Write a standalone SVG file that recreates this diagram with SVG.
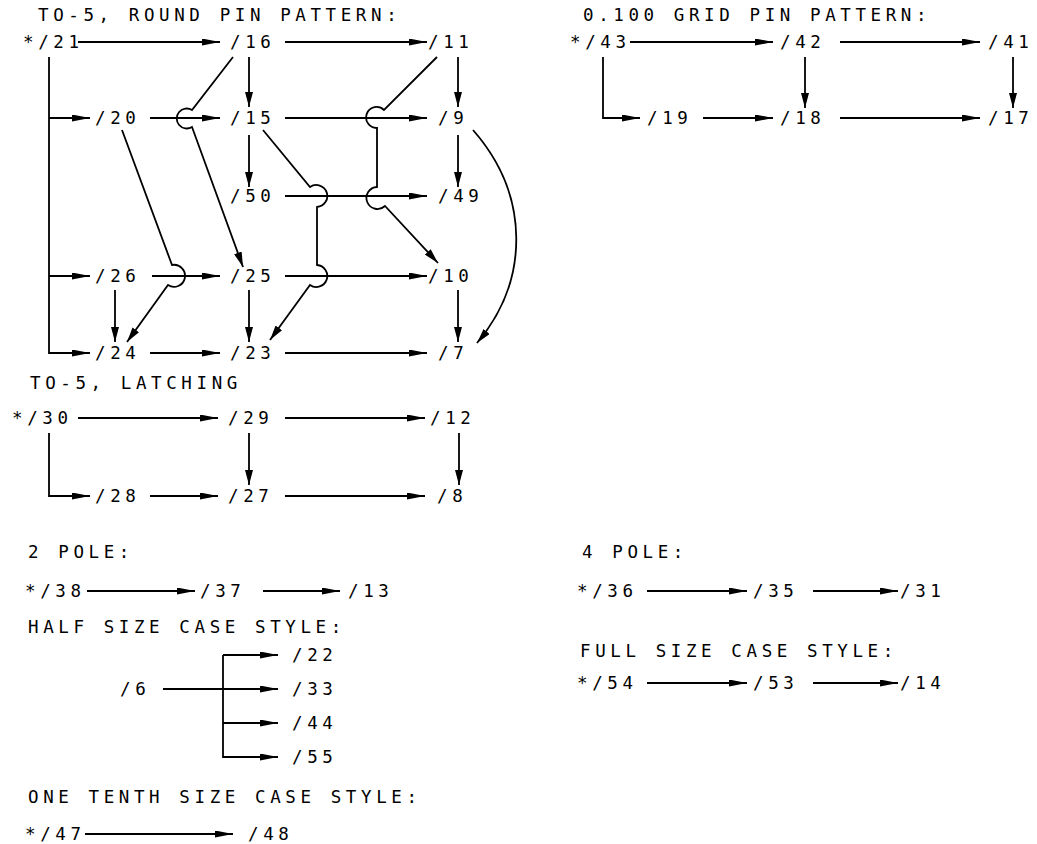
<svg xmlns="http://www.w3.org/2000/svg" width="1037" height="844" viewBox="0 0 1037 844">
<style>
text { font-family: "DejaVu Sans Mono", "Liberation Mono", monospace; font-size: 17.5px; letter-spacing: 4.6px; fill: #000; }
.c { fill: none; stroke: #000; stroke-width: 1.8; }
.h { marker-end: url(#ah); }
.v { marker-end: url(#av); }
</style>
<defs>
<marker id="ah" markerUnits="userSpaceOnUse" viewBox="0 0 18 7" markerWidth="18" markerHeight="7" refX="18" refY="3.5" orient="auto">
<path d="M0,0 L18,3.5 L0,7 Z" fill="#000"/>
</marker>
<marker id="av" markerUnits="userSpaceOnUse" viewBox="0 0 15 8" markerWidth="15" markerHeight="8" refX="15" refY="4" orient="auto">
<path d="M0,0 L15,4 L0,8 Z" fill="#000"/>
</marker>
</defs>
<rect width="1037" height="844" fill="#fff"/>

<g id="titles">
<text x="38" y="20.5">TO-5, ROUND PIN PATTERN:</text>
<text x="583" y="20.5">0.100 GRID PIN PATTERN:</text>
<text x="30" y="389">TO-5, LATCHING</text>
<text x="28" y="558">2 POLE:</text>
<text x="582" y="558">4 POLE:</text>
<text x="28" y="633">HALF SIZE CASE STYLE:</text>
<text x="580" y="657">FULL SIZE CASE STYLE:</text>
<text x="28" y="803">ONE TENTH SIZE CASE STYLE:</text>
</g>

<g id="connectors">
<!-- TO-5 round pin -->
<path class="c h" d="M78,42 H220"/>
<path class="c h" d="M285,42 H427"/>
<path class="c h" d="M49,57 V353 H90"/>
<path class="c h" d="M49,118 H90"/>
<path class="c h" d="M49,276 H90"/>
<path class="c h" d="M150,118 H220"/>
<path class="c h" d="M285,118 H427"/>
<path class="c h" d="M285,196 H427"/>
<path class="c h" d="M152,276 H220"/>
<path class="c h" d="M285,276 H427"/>
<path class="c h" d="M150,353 H220"/>
<path class="c h" d="M285,353 H427"/>
<path class="c v" d="M249,57 V107"/>
<path class="c v" d="M458,57 V107"/>
<path class="c v" d="M249,135 V187"/>
<path class="c v" d="M458,135 V187"/>
<path class="c v" d="M115,290 V342"/>
<path class="c v" d="M249,290 V342"/>
<path class="c v" d="M458,290 V342"/>
<path class="c v" d="M473,130 C530,195 530,280 477,343"/>
<path class="c v" d="M233,57 L192,110 A10,10 0 1 0 192,127 L243,267"/>
<path class="c v" d="M437,57 L384,110 A10.5,10.5 0 1 0 377,128 V187 A11,11 0 1 0 385,206 L438,263"/>
<path class="c v" d="M263,130 L310,187 A11,11 0 1 1 317,207 V265 A11,11 0 1 1 310,285 L270,340"/>
<path class="c v" d="M122,130 L172,265 A11,11 0 1 1 168,285 L127,342"/>
<!-- 0.100 grid -->
<path class="c h" d="M630,42 H773"/>
<path class="c h" d="M840,42 H980"/>
<path class="c h" d="M603,57 V118 H640"/>
<path class="c h" d="M703,118 H773"/>
<path class="c h" d="M840,118 H980"/>
<path class="c v" d="M805,57 V108"/>
<path class="c v" d="M1013,57 V108"/>
<!-- latching -->
<path class="c h" d="M78,418 H218"/>
<path class="c h" d="M285,418 H425"/>
<path class="c h" d="M49,433 V496 H90"/>
<path class="c h" d="M150,496 H218"/>
<path class="c h" d="M285,496 H425"/>
<path class="c v" d="M249,433 V485"/>
<path class="c v" d="M459,433 V485"/>
<!-- 2 pole -->
<path class="c h" d="M87,591 H195"/>
<path class="c h" d="M263,591 H340"/>
<!-- 4 pole -->
<path class="c h" d="M647,591 H747"/>
<path class="c h" d="M813,591 H898"/>
<!-- full size -->
<path class="c h" d="M647,683 H747"/>
<path class="c h" d="M813,683 H898"/>
<!-- half size -->
<path class="c h" d="M223,655 H278"/>
<path class="c h" d="M223,655 V757 H278"/>
<path class="c h" d="M163,689 H278"/>
<path class="c h" d="M223,723 H278"/>
<!-- one tenth -->
<path class="c h" d="M85,834 H233"/>
</g>

<g id="n21"><text x="23" y="48">*/21</text></g>
<g id="n16"><text x="230" y="48">/16</text></g>
<g id="n11"><text x="428" y="48">/11</text></g>
<g id="n20"><text x="95" y="124">/20</text></g>
<g id="n15"><text x="230" y="124">/15</text></g>
<g id="n9"><text x="438" y="124">/9</text></g>
<g id="n50"><text x="230" y="202">/50</text></g>
<g id="n49"><text x="438" y="202">/49</text></g>
<g id="n26"><text x="95" y="282">/26</text></g>
<g id="n25"><text x="230" y="282">/25</text></g>
<g id="n10"><text x="428" y="282">/10</text></g>
<g id="n24"><text x="95" y="359">/24</text></g>
<g id="n23"><text x="230" y="359">/23</text></g>
<g id="n7"><text x="438" y="359">/7</text></g>

<g id="n43"><text x="570" y="48">*/43</text></g>
<g id="n42"><text x="780" y="48">/42</text></g>
<g id="n41"><text x="988" y="48">/41</text></g>
<g id="n19"><text x="647" y="124">/19</text></g>
<g id="n18"><text x="780" y="124">/18</text></g>
<g id="n17"><text x="988" y="124">/17</text></g>

<g id="n30"><text x="12" y="424">*/30</text></g>
<g id="n29"><text x="228" y="424">/29</text></g>
<g id="n12"><text x="430" y="424">/12</text></g>
<g id="n28"><text x="95" y="502">/28</text></g>
<g id="n27"><text x="228" y="502">/27</text></g>
<g id="n8"><text x="437" y="502">/8</text></g>

<g id="n38"><text x="25" y="597">*/38</text></g>
<g id="n37"><text x="200" y="597">/37</text></g>
<g id="n13"><text x="348" y="597">/13</text></g>

<g id="n36"><text x="577" y="597">*/36</text></g>
<g id="n35"><text x="753" y="597">/35</text></g>
<g id="n31"><text x="900" y="597">/31</text></g>

<g id="n54"><text x="577" y="689">*/54</text></g>
<g id="n53"><text x="753" y="689">/53</text></g>
<g id="n14"><text x="900" y="689">/14</text></g>

<g id="n6"><text x="120" y="695">/6</text></g>
<g id="n22"><text x="292" y="661">/22</text></g>
<g id="n33"><text x="292" y="695">/33</text></g>
<g id="n44"><text x="292" y="729">/44</text></g>
<g id="n55"><text x="292" y="763">/55</text></g>

<g id="n47"><text x="25" y="840">*/47</text></g>
<g id="n48"><text x="248" y="840">/48</text></g>
</svg>
